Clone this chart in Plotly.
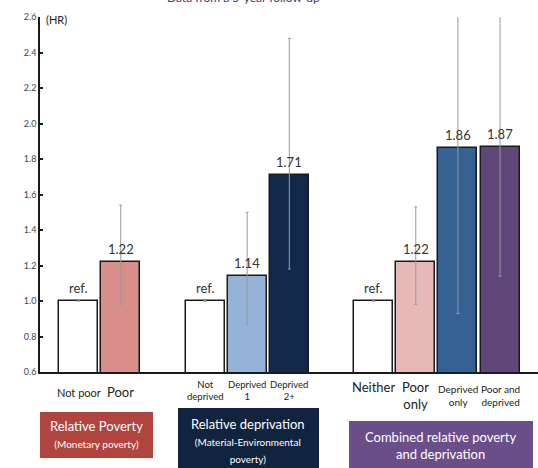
import plotly.graph_objects as go

# ---- data ----
categories = ["Not poor", "Poor", "Not deprived", "Deprived 1", "Deprived 2+",
              "Neither", "Poor only", "Deprived only", "Poor and deprived"]
slot_pos = [0, 1, 3, 4, 5, 7, 8, 9, 10]
hr_values = [1.00, 1.22, 1.00, 1.14, 1.71, 1.00, 1.22, 1.86, 1.87]
ci_upper = [None, 1.54, None, 1.50, 2.48, None, 1.53, 2.80, 2.80]
ci_lower = [None, 0.98, None, 0.87, 1.18, None, 0.98, 0.93, 1.14]
bar_labels = ["ref.", "1.22", "ref.", "1.14", "1.71", "ref.", "1.22", "1.86", "1.87"]
bar_colors = ["#ffffff", "#d98e8c", "#ffffff", "#95b3d7", "#13294b",
              "#ffffff", "#e6b9b8", "#356193", "#5f4879"]
tick_labels = ["Not poor", "Poor", "Not<br>deprived", "Deprived<br>1", "Deprived<br>2+",
               "Neither", "Poor<br>only", "Deprived<br>only", "Poor and<br>deprived"]
tick_sizes = [11, 13, 9.5, 9.5, 9.5, 13, 13, 10, 10]
group_titles = ["Relative Poverty<br><span style='font-size:10px'>(Monetary poverty)</span>",
                "Relative deprivation<br><span style='font-size:10px'>(Material-Environmental<br>poverty)</span>",
                "Combined relative poverty<br>and deprivation"]

W, H = 538, 468
L, R, T, B = 40, 0, 17, 96
ph = H - T - B
pw = W - L - R


def py(pix):
    return (H - B - pix) / ph


def px(pix):
    return (pix - L) / pw


err_plus = [(u - v) if u is not None else 0 for u, v in zip(ci_upper, hr_values)]
err_minus = [(v - l) if l is not None else 0 for l, v in zip(ci_lower, hr_values)]

fig = go.Figure()
fig.add_trace(go.Bar(
    x=slot_pos, y=hr_values, width=0.925,
    marker=dict(color=bar_colors, line=dict(color="#1a1a1a", width=1.5)),
    error_y=dict(type="data", symmetric=False, array=err_plus, arrayminus=err_minus,
                 color="#9a9a9a", thickness=1, width=1.5),
    hoverinfo="skip",
))

# value labels above bars
for x, v, lab in zip(slot_pos, hr_values, bar_labels):
    fig.add_annotation(x=x, xref="x", y=v, yref="y", text=lab, showarrow=False,
                       yanchor="bottom", yshift=3, xanchor="center",
                       font=dict(size=13, color="#333333", family="Lato"))

# x tick labels as annotations
tick_y = {0: 392, 1: 392, 2: 390, 3: 390, 4: 390, 5: 387, 6: 396, 7: 396, 8: 396}
for i, (x, lab, s) in enumerate(zip(slot_pos, tick_labels, tick_sizes)):
    fig.add_annotation(x=x, xref="x", y=py(tick_y[i]), yref="paper", text=lab,
                       showarrow=False, font=dict(size=s, color="#222222", family="Lato"),
                       yanchor="middle", xanchor="center", align="center")

# group boxes
boxes = [(40, 153, 412, 458, "#b0443f"), (178, 319, 408, 475, "#10243f"), (349, 533, 421, 475, "#6a4e8a")]
text_centers = [(96, 434), (248, 440), (441, 445)]
for (x0, x1, y0, y1, c), (cx, cy), t in zip(boxes, text_centers, group_titles):
    fig.add_shape(type="rect", xref="paper", yref="paper", x0=px(x0), x1=px(x1),
                  y0=py(y1), y1=py(y0), fillcolor=c, line=dict(color=c, width=0), layer="above")
    fig.add_annotation(x=px(cx), xref="paper", y=py(cy), yref="paper", text=t, showarrow=False,
                       font=dict(size=13, color="white", family="Lato"), align="center",
                       xanchor="center", yanchor="middle")

# (HR) label
fig.add_annotation(x=px(44), xref="paper", y=py(20), yref="paper", text="(HR)", showarrow=False,
                   xanchor="left", yanchor="middle", font=dict(size=11, color="#222222", family="Lato"))
# cut-off title (only its lower part is visible in the original)
fig.add_annotation(x=px(243), xref="paper", y=py(-3), yref="paper", text="Data from a 5-year follow-up",
                   showarrow=False, xanchor="center", yanchor="middle",
                   font=dict(size=12, color="#3f3a66", family="Lato"))

fig.update_layout(
    width=W, height=H, margin=dict(l=L, r=R, t=T, b=B, autoexpand=False),
    paper_bgcolor="white", plot_bgcolor="white", showlegend=False, bargap=0,
    font=dict(family="Lato", color="#333333"),
    xaxis=dict(range=[-0.915, 10.9], showticklabels=False, showgrid=False, zeroline=False,
               showline=True, linecolor="#1a1a1a", linewidth=1.5, ticks="", automargin=False),
    yaxis=dict(range=[0.6, 2.6], tickvals=[0.6, 0.8, 1.0, 1.2, 1.4, 1.6, 1.8, 2.0, 2.2, 2.4, 2.6],
               tickformat=".1f", showgrid=False, zeroline=False, showline=True, automargin=False,
               linecolor="#1a1a1a", linewidth=1.5, ticks="inside", ticklen=3, tickwidth=1.5,
               tickcolor="#1a1a1a", tickfont=dict(size=9, color="#444444", family="Lato")),
)

fig.write_html("out.html", config={"displayModeBar": False},
               post_script="document.body.style.margin='0';document.body.style.overflow='hidden';")
